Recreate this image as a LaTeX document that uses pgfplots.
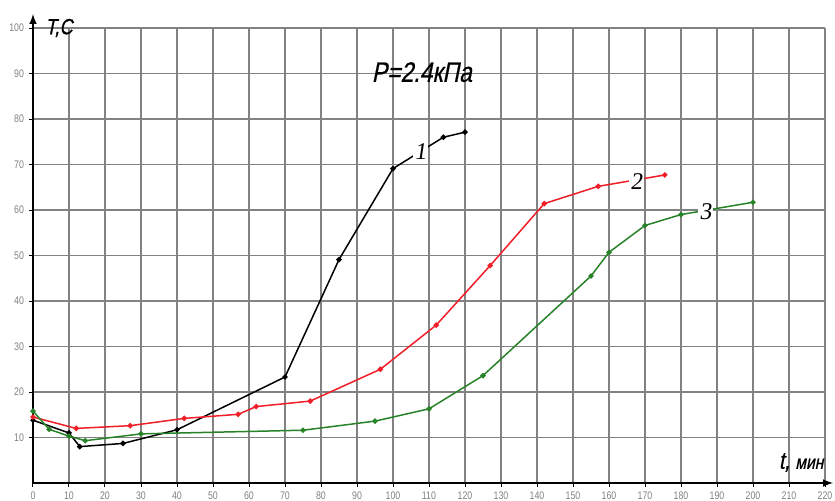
\documentclass[border=0pt]{standalone}
\usepackage{fontspec}
\setmainfont{Liberation Sans}
\newfontfamily\gost[FakeStretch=0.82,FakeSlant=0.2,FakeBold=0.6]{Liberation Sans}
\newfontfamily\cond[FakeStretch=0.8]{Liberation Sans}
\newfontfamily\seri[FakeSlant=0.15]{Liberation Serif}
\usepackage{pgfplots}
\pgfplotsset{compat=1.18}
\definecolor{gridc}{RGB}{130,130,130}
\definecolor{redc}{RGB}{240,30,40}
\definecolor{greenc}{RGB}{40,130,40}
\begin{document}
\begin{tikzpicture}
\useasboundingbox (-16.5pt,-8.5pt) rectangle (401pt,241.5pt);
\begin{axis}[
  at={(0,0)}, anchor=south west,
  scale only axis, width=396pt, height=227.5pt,
  xmin=0, xmax=220, ymin=0, ymax=100,
  axis lines=left,
  x axis line style={-latex, shorten >=-4pt, line width=0.7pt},
  y axis line style={-latex, shorten >=-7pt, line width=0.7pt},
  xtick={0,10,...,220}, ytick={10,20,...,100},
  grid=major,
  major grid style={gridc, line width=0.55pt},
  tick align=outside, major tick length=2pt,
  tick style={black, line width=0.5pt},
  /pgf/number format/assume math mode=true,
  tick label style={font=\cond\fontsize{5.5}{6}\selectfont, text=gray},
  xticklabel style={yshift=1pt},
  yticklabel style={xshift=1pt},
  clip=false,
]
\addplot[black, line width=0.75pt, mark=*, mark size=0.95pt] coordinates {
 (0,13.8) (10,11) (13,8) (25,8.7) (40,11.7) (70,23.3) (85,49.1) (100,69.1) (114,76) (120,77.1)};
\addplot[redc, line width=0.75pt, mark=*, mark size=0.95pt] coordinates {
 (0,14.5) (12,12) (27,12.6) (42,14.2) (57,15.1) (62,16.8) (77,18) (96.5,25) (112,34.7) (127,47.8) (142,61.4) (157,65.2) (175.5,67.7)};
\addplot[greenc, line width=0.75pt, mark=*, mark size=0.95pt] coordinates {
 (0,15.8) (4.5,11.8) (10,10.3) (14.5,9.3) (30,10.8) (75,11.6) (95,13.6) (110,16.3) (125,23.6) (155,45.5) (160,50.7) (170,56.6) (180,59) (200,61.7)};
\node[fill=white, inner sep=0.8pt, font=\seri\fontsize{12}{12}\selectfont] at (axis cs:107.6,72.8) {1};
\node[fill=white, inner sep=0.8pt, font=\seri\fontsize{12}{12}\selectfont] at (axis cs:167.6,66.3) {2};
\node[fill=white, inner sep=0.8pt, font=\seri\fontsize{12}{12}\selectfont] at (axis cs:186.8,59.6) {3};
\node[font=\gost\fontsize{14}{16}\selectfont] at (axis cs:108,90.3) {P=2.4кПа};
\node[anchor=west, font=\gost\fontsize{11}{12}\selectfont] at (axis cs:1.5,100) {T,C};
\node[anchor=east, font=\gost\fontsize{9.5}{12}\selectfont] at (axis cs:221.5,4.5) {\fontsize{12}{12}\selectfont t,\ \fontsize{9.5}{12}\selectfont мин};
\end{axis}
\end{tikzpicture}
\end{document}
